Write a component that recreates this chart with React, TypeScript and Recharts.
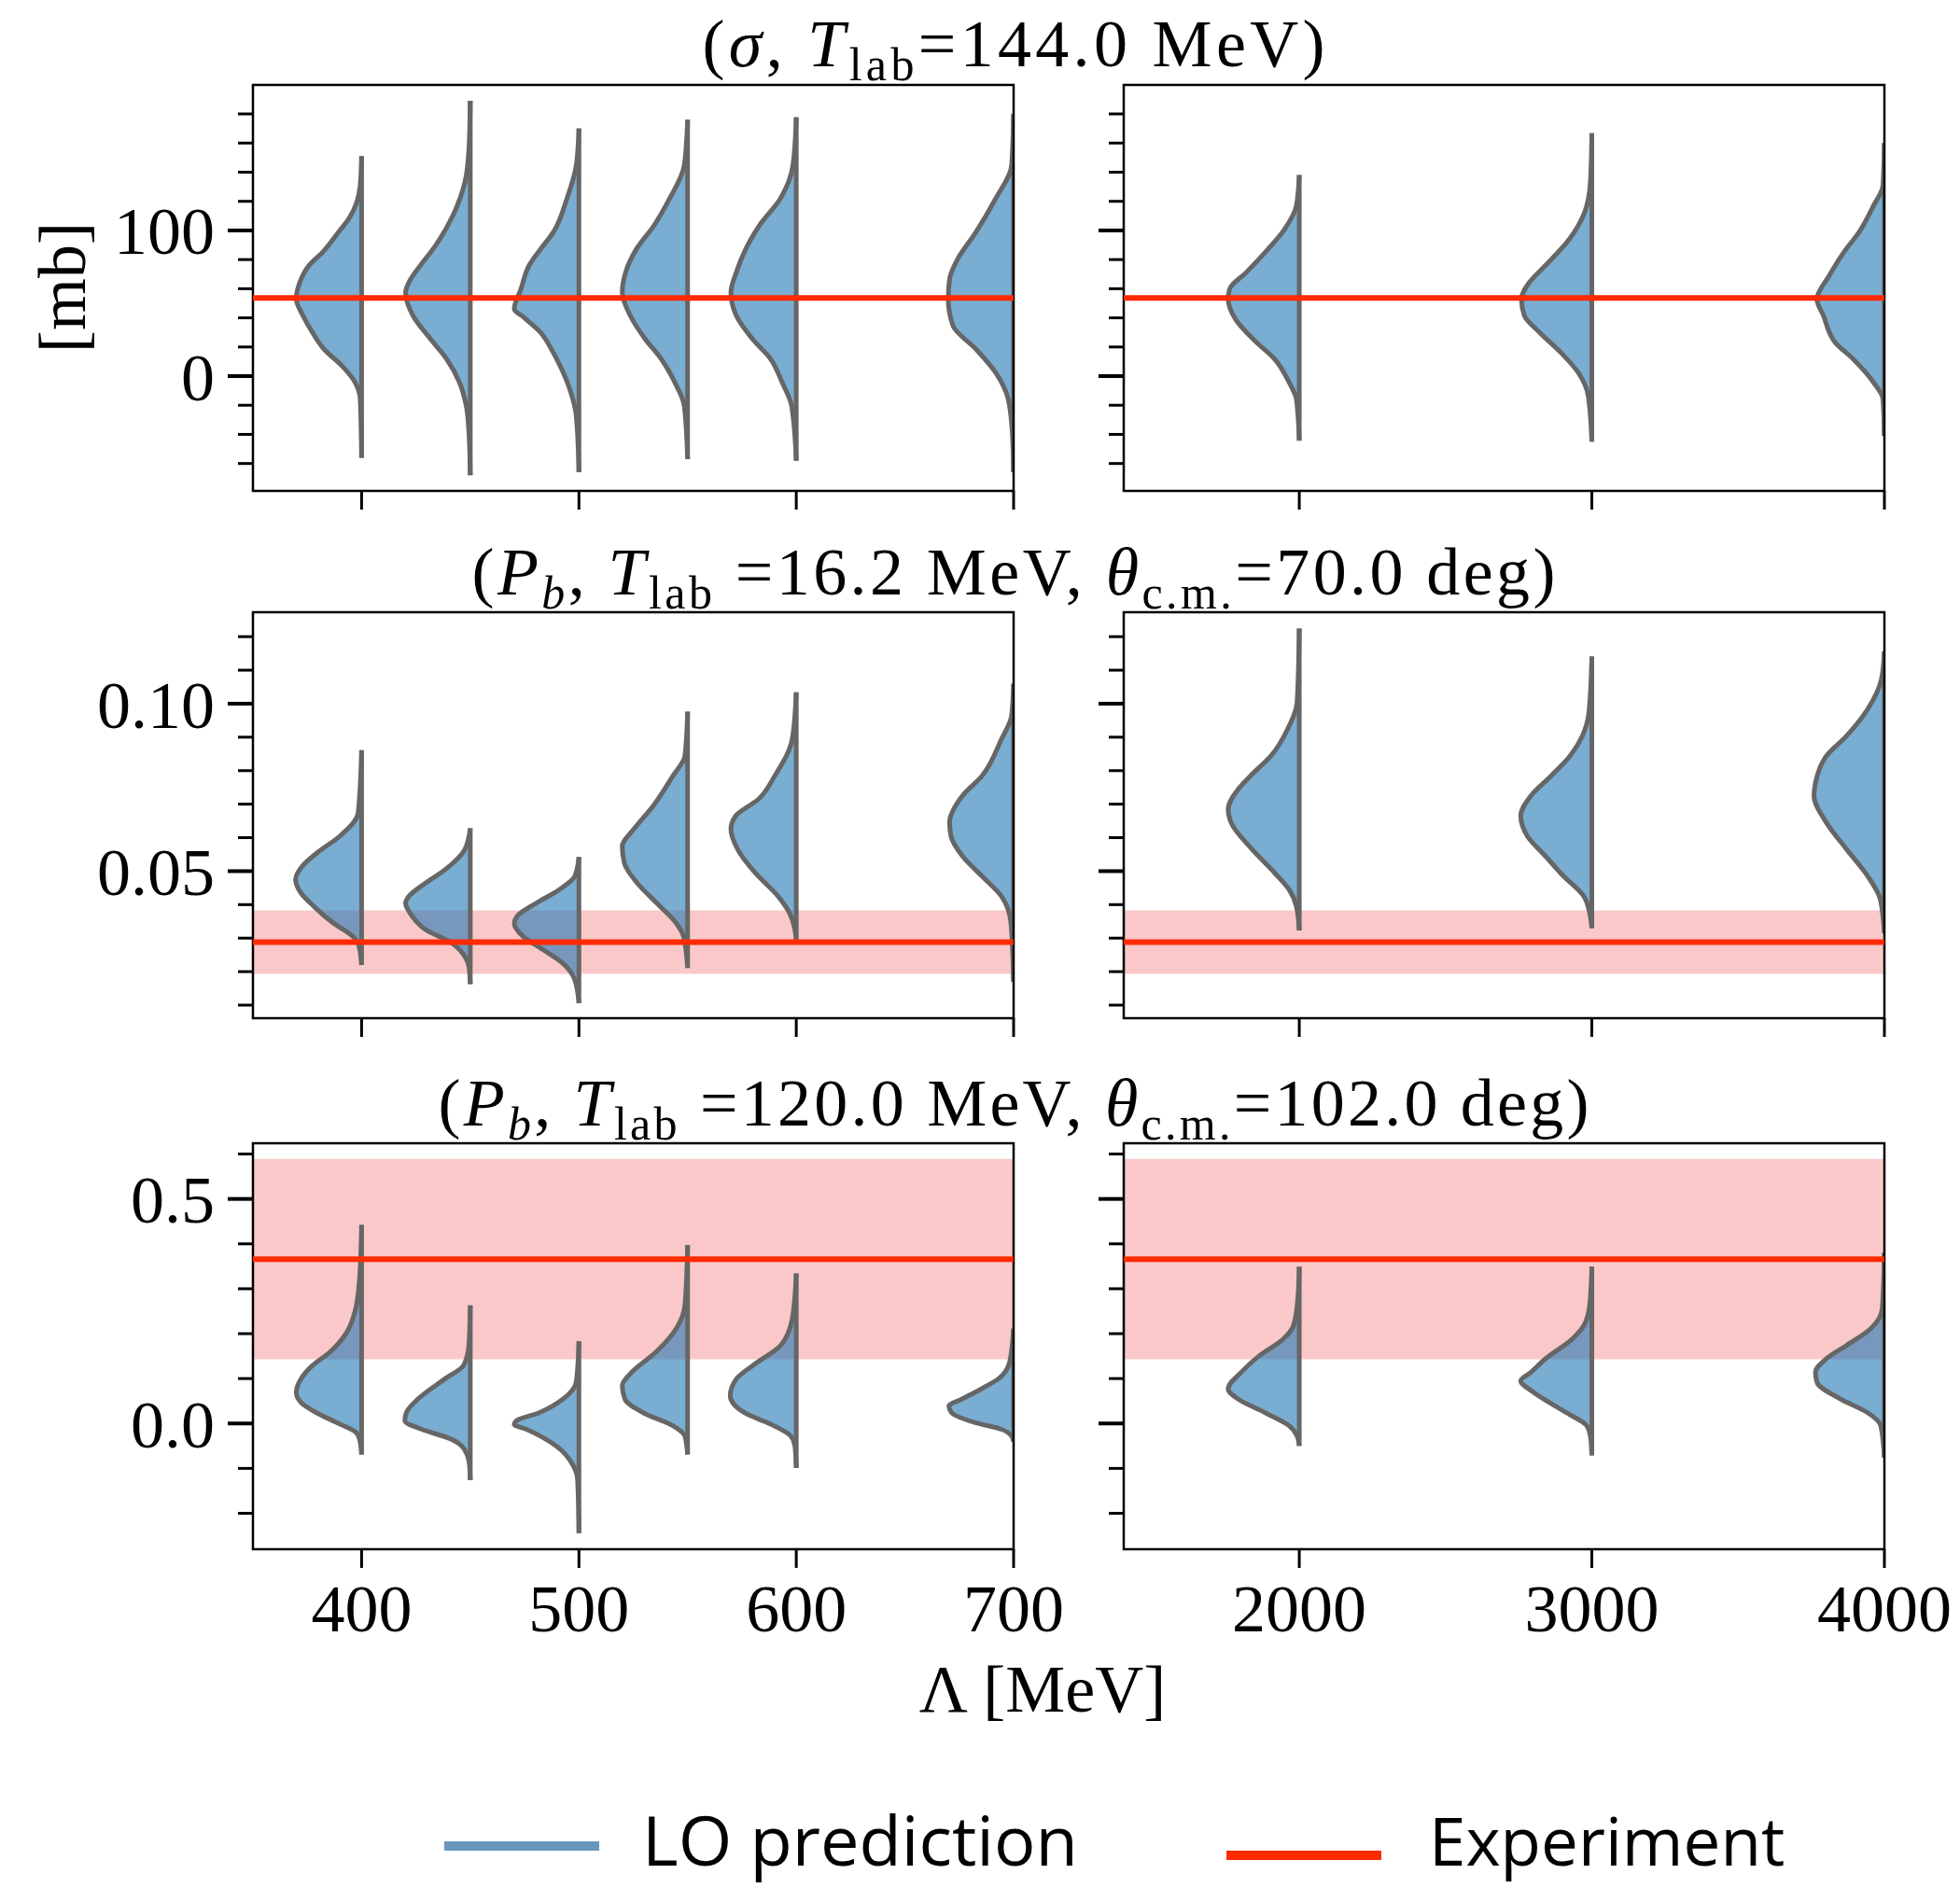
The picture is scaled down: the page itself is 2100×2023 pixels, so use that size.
import React from "react";
import { ComposedChart, Area, XAxis, YAxis, ReferenceLine, ReferenceArea } from "recharts";

// cutoffs (x positions of the half violins)
const LAMBDA_LOW = [400, 450, 500, 550, 600, 700];
const LAMBDA_HIGH = [2000, 3000, 4000];
const X_TICKS_LOW = [400, 500, 600, 700];
const X_TICKS_HIGH = [2000, 3000, 4000];

// violin profiles: [value, relative half-width]
const SIGMA_LOW = [
  [[151, 0], [131, 0.02], [108, 0.19], [99, 0.34], [85, 0.58], [76, 0.78], [64, 0.92], [53, 0.97], [41.5, 0.87], [30, 0.73], [18.6, 0.56], [7, 0.29], [-4, 0.1], [-16, 0.02], [-56, 0]],
  [[189, 0], [156, 0.02], [133, 0.08], [111, 0.25], [88, 0.54], [76, 0.74], [64.4, 0.91], [57.5, 0.96], [41.5, 0.85], [25.5, 0.59], [11.7, 0.35], [-4.3, 0.16], [-20.3, 0.06], [-38.6, 0.02], [-68, 0]],
  [[170, 0], [144.5, 0.04], [121.6, 0.18], [98.7, 0.38], [87.2, 0.57], [75.9, 0.74], [59.8, 0.86], [46, 0.96], [40.4, 0.82], [30, 0.57], [18.6, 0.41], [7.1, 0.28], [-11.2, 0.12], [-27.2, 0.04], [-66, 0]],
  [[176, 0], [144.5, 0.05], [121.6, 0.27], [103.3, 0.5], [87.2, 0.76], [71.2, 0.92], [57.5, 0.97], [41.5, 0.85], [25.5, 0.63], [11.7, 0.39], [-4.3, 0.19], [-20.3, 0.05], [-57, 0]],
  [[177.7, 0], [144.5, 0.05], [121.6, 0.24], [103.3, 0.55], [87.2, 0.75], [71.2, 0.89], [57.5, 0.97], [41.5, 0.89], [25.5, 0.65], [11.7, 0.38], [-4.3, 0.21], [-20.3, 0.07], [-58, 0]],
  [[180, 0], [144.5, 0.03], [121.6, 0.27], [98.7, 0.56], [80.4, 0.83], [66.7, 0.95], [53, 0.97], [34.6, 0.9], [18.6, 0.56], [2.6, 0.27], [-15.8, 0.08], [-38.6, 0.02], [-66, 0]],
];
const SIGMA_HIGH = [
  [[138, 0], [117, 0.04], [101, 0.2], [85, 0.47], [71.2, 0.73], [59.8, 0.96], [52.9, 0.98], [39.2, 0.88], [23.2, 0.59], [11.7, 0.34], [-4.3, 0.14], [-15.8, 0.04], [-44.3, 0]],
  [[166.7, 0], [133, 0.02], [112.4, 0.1], [94, 0.31], [75.9, 0.64], [64.4, 0.86], [52.9, 0.97], [41.5, 0.93], [30, 0.72], [16.3, 0.43], [2.6, 0.19], [-13.5, 0.05], [-45, 0]],
  [[160, 0], [130.8, 0.02], [117, 0.15], [98.7, 0.35], [85, 0.56], [69, 0.76], [52.9, 0.93], [41.5, 0.84], [23.2, 0.68], [11.7, 0.43], [-4.3, 0.15], [-15.8, 0.02], [-41, 0]],
];
const PB16_LOW = [
  [[0.0861, 0], [0.0675, 0.05], [0.0605, 0.32], [0.0555, 0.66], [0.0515, 0.88], [0.0475, 0.98], [0.0435, 0.9], [0.0395, 0.71], [0.0345, 0.42], [0.0305, 0.13], [0.0285, 0.05], [0.022, 0]],
  [[0.0628, 0], [0.0565, 0.08], [0.0505, 0.37], [0.0465, 0.66], [0.0425, 0.91], [0.0405, 0.96], [0.0365, 0.86], [0.0325, 0.66], [0.0285, 0.27], [0.0245, 0.08], [0.0215, 0.02], [0.0163, 0]],
  [[0.0542, 0], [0.0485, 0.06], [0.0445, 0.29], [0.0405, 0.63], [0.0365, 0.92], [0.0345, 0.96], [0.0305, 0.83], [0.0265, 0.53], [0.0225, 0.24], [0.0175, 0.06], [0.0106, 0]],
  [[0.0976, 0], [0.0844, 0.04], [0.0784, 0.22], [0.0695, 0.51], [0.0625, 0.8], [0.0575, 0.97], [0.0525, 0.94], [0.0465, 0.75], [0.0405, 0.46], [0.0345, 0.17], [0.0305, 0.06], [0.0211, 0]],
  [[0.1034, 0], [0.0894, 0.06], [0.0784, 0.32], [0.0715, 0.56], [0.0665, 0.9], [0.0625, 0.97], [0.0565, 0.87], [0.0495, 0.61], [0.0425, 0.27], [0.0375, 0.1], [0.0325, 0.02], [0.0295, 0]],
  [[0.1059, 0], [0.0964, 0.03], [0.0894, 0.18], [0.0784, 0.47], [0.0725, 0.76], [0.0645, 0.95], [0.0605, 0.93], [0.0545, 0.76], [0.0485, 0.47], [0.0425, 0.18], [0.0345, 0.04], [0.017, 0]],
];
const PB16_HIGH = [
  [[0.1224, 0], [0.1004, 0.03], [0.0924, 0.16], [0.0844, 0.39], [0.0785, 0.67], [0.0745, 0.84], [0.0685, 0.98], [0.0645, 0.94], [0.0565, 0.65], [0.0495, 0.34], [0.0445, 0.14], [0.0395, 0.04], [0.0323, 0]],
  [[0.1141, 0], [0.0974, 0.04], [0.0904, 0.13], [0.0844, 0.3], [0.0785, 0.56], [0.0725, 0.84], [0.0665, 0.98], [0.0605, 0.89], [0.0545, 0.64], [0.0485, 0.39], [0.0425, 0.11], [0.0375, 0.03], [0.033, 0]],
  [[0.1156, 0], [0.1074, 0.04], [0.0984, 0.23], [0.0904, 0.52], [0.0844, 0.8], [0.0764, 0.95], [0.0725, 0.97], [0.0645, 0.8], [0.0565, 0.52], [0.0485, 0.23], [0.0425, 0.07], [0.0365, 0.02], [0.0316, 0]],
];
const PB120_LOW = [
  [[0.442, 0], [0.323, 0.03], [0.248, 0.1], [0.203, 0.22], [0.159, 0.47], [0.129, 0.73], [0.099, 0.9], [0.069, 0.97], [0.047, 0.9], [0.024, 0.67], [0.002, 0.37], [-0.02, 0.08], [-0.035, 0.03], [-0.069, 0]],
  [[0.263, 0], [0.174, 0.02], [0.129, 0.1], [0.099, 0.38], [0.054, 0.78], [0.024, 0.95], [0.006, 0.97], [-0.013, 0.72], [-0.035, 0.28], [-0.065, 0.06], [-0.095, 0.01], [-0.126, 0]],
  [[0.183, 0], [0.092, 0.04], [0.054, 0.24], [0.024, 0.59], [0.006, 0.93], [-0.002, 0.96], [-0.013, 0.78], [-0.05, 0.34], [-0.095, 0.08], [-0.125, 0.02], [-0.244, 0]],
  [[0.397, 0], [0.263, 0.04], [0.211, 0.17], [0.159, 0.47], [0.114, 0.83], [0.084, 0.97], [0.054, 0.93], [0.024, 0.66], [-0.005, 0.22], [-0.028, 0.04], [-0.069, 0]],
  [[0.334, 0], [0.233, 0.06], [0.174, 0.23], [0.136, 0.58], [0.099, 0.89], [0.062, 0.98], [0.024, 0.77], [-0.005, 0.33], [-0.028, 0.08], [-0.05, 0.02], [-0.099, 0]],
  [[0.211, 0], [0.136, 0.06], [0.099, 0.23], [0.077, 0.48], [0.054, 0.77], [0.039, 0.96], [0.024, 0.92], [0.002, 0.57], [-0.013, 0.18], [-0.028, 0.03], [-0.04, 0]],
];
const PB120_HIGH = [
  [[0.349, 0], [0.278, 0.02], [0.218, 0.08], [0.188, 0.22], [0.151, 0.55], [0.114, 0.8], [0.077, 0.98], [0.054, 0.84], [0.024, 0.47], [-0.005, 0.14], [-0.028, 0.03], [-0.05, 0]],
  [[0.349, 0], [0.263, 0.03], [0.218, 0.11], [0.188, 0.27], [0.144, 0.64], [0.114, 0.84], [0.095, 0.98], [0.069, 0.8], [0.024, 0.35], [-0.005, 0.07], [-0.028, 0.02], [-0.071, 0]],
  [[0.38, 0], [0.256, 0.03], [0.211, 0.19], [0.174, 0.52], [0.144, 0.8], [0.114, 0.95], [0.092, 0.93], [0.054, 0.6], [0.024, 0.23], [-0.005, 0.05], [-0.076, 0]],
];

// experiment: central value and error
const EXP_VALUES = [53.6, 0.0288, 0.366];
const EXP_ERRORS = [0, 0.0095, 0.223];

// y axis ticks per row
const Y_MAJOR = [[0, 100], [0.05, 0.1], [0.0, 0.5]];
const Y_MINOR = [
  [-60, -40, -20, 20, 40, 60, 80, 120, 140, 160, 180],
  [0.01, 0.02, 0.03, 0.04, 0.06, 0.07, 0.08, 0.09, 0.11, 0.12],
  [-0.2, -0.1, 0.1, 0.2, 0.3, 0.4, 0.6],
];
const Y_DOMAINS = [[-78.8, 199.9], [0.0061, 0.1273], [-0.28, 0.624]];
const Y_DIGITS = [0, 2, 1];

const SERIF = "'Liberation Serif', 'Times New Roman', serif";
const SANS = "'Open Sans', 'Noto Sans', sans-serif";
const BLUE = "#1f77b4";
const RED = "#ff2a00";

const PW = 815;
const PH = 435;
const COL_X = [271, 1204];
const ROW_Y = [91, 656, 1225];
// one 1px y axis and one 1px x axis sit inside the margins
const M = { top: 20, right: 90, bottom: 129, left: 209 };

type Profile = number[][];

function violinData(profile: Profile, lam: number, hw: number) {
  return [...profile]
    .sort((a, b) => a[0] - b[0])
    .map(([v, w]) => ({ y: v, r: [lam - w * hw, lam] }));
}

// keeps the tick line but draws no label
const NoLabel = () => <g />;

// y tick: long tick (+ label) for majors, short tick for minors
function yTick(row: number, showLabel: boolean) {
  return (p: any) => {
    const v = p.payload.value;
    const major = Y_MAJOR[row].some((m) => Math.abs(m - v) < 1e-9);
    const len = major ? 27 : 16;
    return (
      <g>
        <line x1={p.x} x2={p.x - len} y1={p.y} y2={p.y} stroke="#000" strokeWidth={major ? 4 : 3} />
        {major && showLabel && (
          <text x={p.x - 41} y={p.y} dy="0.355em" textAnchor="end" fill="#000" fontSize={72} fontFamily={SERIF}>
            {v.toFixed(Y_DIGITS[row])}
          </text>
        )}
      </g>
    );
  };
}

function Panel(props: {
  row: number;
  col: number;
  lambdas: number[];
  profiles: Profile[];
}) {
  const { row, col, lambdas, profiles } = props;
  const low = col === 0;
  const xDomain = low ? [350, 700] : [1400, 4000];
  const xTicks = low ? X_TICKS_LOW : X_TICKS_HIGH;
  const hw = low ? 31 : 248;
  const yDomain = Y_DOMAINS[row];
  const exp = EXP_VALUES[row];
  const err = EXP_ERRORS[row];
  const yTicks = [...Y_MAJOR[row], ...Y_MINOR[row]].sort((a, b) => a - b);
  const tickFont = { fill: "#000", fontSize: 72, fontFamily: SERIF };
  return (
    <div style={{ position: "absolute", left: COL_X[col] - M.left - 1, top: ROW_Y[row] - M.top }}>
      <ComposedChart
        width={PW + M.left + M.right + 1}
        height={PH + M.top + M.bottom + 1}
        layout="vertical"
        margin={M}
      >
        <XAxis
          type="number"
          domain={xDomain}
          ticks={xTicks}
          allowDataOverflow
          interval={0}
          height={1}
          axisLine={false}
          tickSize={20}
          tickMargin={17}
          tickLine={{ stroke: "#000", strokeWidth: 3 }}
          tick={row === 2 ? tickFont : NoLabel}
        />
        <YAxis
          type="number"
          dataKey="y"
          domain={yDomain}
          reversed
          ticks={yTicks}
          allowDataOverflow
          interval={0}
          width={1}
          axisLine={false}
          tickSize={0}
          tickMargin={0}
          tickLine={false}
          tick={yTick(row, low)}
        />
        {err > 0 && (
          <ReferenceArea
            x1={xDomain[0]}
            x2={xDomain[1]}
            y1={exp - err}
            y2={exp + err}
            fill="#fac8c8"
            fillOpacity={1}
            stroke="none"
          />
        )}
        {lambdas.map((lam, i) => (
          <Area
            key={lam}
            name={`L${lam}`}
            data={violinData(profiles[i], lam, hw)}
            dataKey="r"
            type="monotone"
            fill={BLUE}
            fillOpacity={0.6}
            stroke="#666666"
            strokeWidth={5}
            dot={false}
            activeDot={false}
            isAnimationActive={false}
          />
        ))}
        <ReferenceLine y={exp} stroke={RED} strokeWidth={6} />
        <ReferenceArea
          x1={xDomain[0]}
          x2={xDomain[1]}
          y1={yDomain[0]}
          y2={yDomain[1]}
          fill="none"
          stroke="#000"
          strokeWidth={2.5}
          ifOverflow="visible"
        />
      </ComposedChart>
    </div>
  );
}

const ROWS = [
  [SIGMA_LOW, SIGMA_HIGH],
  [PB16_LOW, PB16_HIGH],
  [PB120_LOW, PB120_HIGH],
];

export default function App() {
  return (
    <div style={{ position: "absolute", left: 0, top: 0, width: 2100, height: 2023, background: "#fff", overflow: "hidden" }}>
      {ROWS.map((pair, row) => (
        <React.Fragment key={row}>
          <Panel row={row} col={0} lambdas={LAMBDA_LOW} profiles={pair[0]} />
          <Panel row={row} col={1} lambdas={LAMBDA_HIGH} profiles={pair[1]} />
        </React.Fragment>
      ))}
      <svg width={2100} height={2023} style={{ position: "absolute", left: 0, top: 0, pointerEvents: "none" }}>
        <g fontFamily={SERIF} fontSize={72} fill="#000">
          <text x={1086} y={71} textAnchor="middle" textLength={667} lengthAdjust="spacing">
            (<tspan fontStyle="italic">σ</tspan>, <tspan fontStyle="italic">T</tspan>
            <tspan fontSize={50} dy={15}>lab</tspan>
            <tspan dy={-15}>=144.0 MeV)</tspan>
          </text>
          <text x={1086} y={637} textAnchor="middle" textLength={1161} lengthAdjust="spacing">
            (<tspan fontStyle="italic">P</tspan>
            <tspan fontSize={50} dy={15} fontStyle="italic">b</tspan>
            <tspan dy={-15}>, </tspan>
            <tspan fontStyle="italic">T</tspan>
            <tspan fontSize={50} dy={15}>lab</tspan>
            <tspan dy={-15}> =16.2 MeV, </tspan>
            <tspan fontStyle="italic">θ</tspan>
            <tspan fontSize={50} dy={15}>c.m.</tspan>
            <tspan dy={-15}>=70.0 deg)</tspan>
          </text>
          <text x={1086} y={1206} textAnchor="middle" textLength={1233} lengthAdjust="spacing">
            (<tspan fontStyle="italic">P</tspan>
            <tspan fontSize={50} dy={15} fontStyle="italic">b</tspan>
            <tspan dy={-15}>, </tspan>
            <tspan fontStyle="italic">T</tspan>
            <tspan fontSize={50} dy={15}>lab</tspan>
            <tspan dy={-15}> =120.0 MeV, </tspan>
            <tspan fontStyle="italic">θ</tspan>
            <tspan fontSize={50} dy={15}>c.m.</tspan>
            <tspan dy={-15}>=102.0 deg)</tspan>
          </text>
          <text x={1117} y={1834} textAnchor="middle">Λ [MeV]</text>
          <text transform="translate(91, 308) rotate(-90)" textAnchor="middle">[mb]</text>
        </g>
        <line x1={476} x2={642} y1={1978} y2={1978} stroke="#6a97bb" strokeWidth={10} />
        <text x={688} y={1999} fontFamily={SANS} fontSize={74} fill="#000">LO prediction</text>
        <line x1={1314} x2={1480} y1={1988} y2={1988} stroke={RED} strokeWidth={10} />
        <text x={1531} y={1999} fontFamily={SANS} fontSize={71} fill="#000">Experiment</text>
      </svg>
    </div>
  );
}
